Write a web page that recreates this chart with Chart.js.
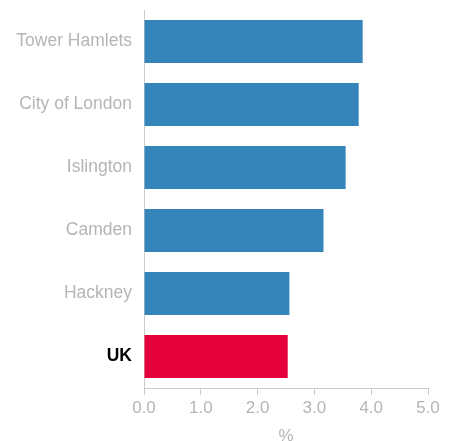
<!DOCTYPE html>
<html>
<head>
<meta charset="utf-8">
<script src="https://cdn.jsdelivr.net/npm/chart.js@4.4.1/dist/chart.umd.min.js"></script>
<style>
  html, body { margin: 0; padding: 0; background: #fff; overflow: hidden; }
</style>
</head>
<body>
<canvas id="chart" width="452" height="441"></canvas>
<script>
// data
const areas = ["Tower Hamlets", "City of London", "Islington", "Camden", "Hackney", "UK"];
const values = [3.85, 3.78, 3.55, 3.16, 2.56, 2.53];
const barColors = ["#3585bb", "#3585bb", "#3585bb", "#3585bb", "#3585bb", "#e4003b"];
const xTicks = [0, 1, 2, 3, 4, 5];

const grey = "#b5b5b5";
const font = "'Liberation Sans', Arial, sans-serif";

const ctx = document.getElementById("chart").getContext("2d");
new Chart(ctx, {
  type: "bar",
  data: {
    labels: areas,
    datasets: [{
      data: values,
      backgroundColor: barColors,
      categoryPercentage: 0.68,
      barPercentage: 1.0,
      borderWidth: 0,
    }],
  },
  options: {
    indexAxis: "y",
    responsive: false,
    animation: false,
    layout: { padding: { top: 10, right: 24, left: 0, bottom: 0 } },
    plugins: { legend: { display: false }, tooltip: { enabled: false } },
    scales: {
      x: {
        min: 0,
        max: 5,
        afterBuildTicks: (axis) => { axis.ticks = xTicks.map((v) => ({ value: v })); },
        afterFit: (axis) => { axis.height = 53; },
        grid: { drawOnChartArea: false, drawTicks: true, tickLength: 7, color: "#cccccc" },
        border: { color: "#cccccc", width: 1 },
        ticks: {
          color: grey,
          font: { family: font, size: 17 },
          padding: 3,
          maxRotation: 0,
          callback: (v) => Number(v).toFixed(1),
        },
        title: {
          display: true,
          text: "%",
          color: grey,
          font: { family: font, size: 17 },
          padding: { top: 0, bottom: -6 },
        },
      },
      y: {
        afterFit: (axis) => {
          axis.width = 144;
          axis.paddingTop = 0;
          axis.paddingBottom = 0;
        },
        grid: { display: false },
        border: { color: "#cccccc", width: 1 },
        ticks: {
          padding: 4,
          color: (c) => (areas[c.index] === "UK" ? "#000000" : grey),
          font: (c) => ({
            family: font,
            size: 17.5,
            weight: areas[c.index] === "UK" ? "bold" : "normal",
          }),
        },
      },
    },
  },
});
</script>
</body>
</html>
